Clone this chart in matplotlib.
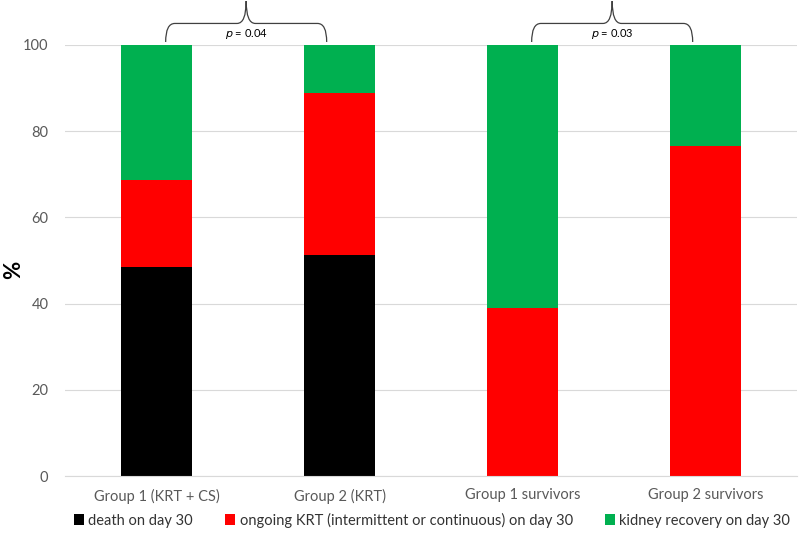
import matplotlib.pyplot as plt
from matplotlib.path import Path
from matplotlib.patches import PathPatch

plt.rcParams['font.family'] = ['Lato', 'DejaVu Sans']

groups = ['Group 1 (KRT + CS)', 'Group 2 (KRT)', 'Group 1 survivors', 'Group 2 survivors']
death = [48.6, 51.3, 0, 0]
ongoing = [20.0, 37.6, 38.9, 76.5]
recovery = [31.4, 11.1, 61.1, 23.5]
labels = ['death on day 30', 'ongoing KRT (intermittent or continuous) on day 30',
          'kidney recovery on day 30']
colors = ['#000000', '#ff0000', '#00b050']
brackets = [(0, 1, 'p = 0.04'), (2, 3, 'p = 0.03')]

fig = plt.figure(figsize=(8, 5.37), dpi=100)
ax = fig.add_axes([65 / 800, 1 - 476 / 537, 732 / 800, 431 / 537])

x = range(len(groups))
w = 0.39
b1 = ax.bar(x, death, w, color=colors[0], label=labels[0], zorder=2)
b2 = ax.bar(x, ongoing, w, bottom=death, color=colors[1], label=labels[1], zorder=2)
bottom2 = [d + o for d, o in zip(death, ongoing)]
b3 = ax.bar(x, recovery, w, bottom=bottom2, color=colors[2], label=labels[2], zorder=2)

ax.set_xlim(-0.5, 3.5)
ax.set_ylim(0, 100)
ax.set_yticks(range(0, 101, 20))
ax.yaxis.grid(True, color='#d9d9d9', linewidth=0.8, zorder=0)
ax.set_axisbelow(True)
for s in ['top', 'right', 'left']:
    ax.spines[s].set_visible(False)
ax.spines['bottom'].set_color('#d9d9d9')
ax.tick_params(axis='both', length=0, colors='#595959', labelsize=10.5)
ax.tick_params(axis='y', pad=12)
ax.tick_params(axis='x', pad=9)
ax.set_xticks(list(x))
ax.set_xticklabels(groups)
fig.text(14 / 800, 1 - 270 / 537, '%', rotation=90, fontsize=16, fontweight='bold',
         ha='center', va='center')


# curly brackets above the pairs of bars
def draw_bracket(x1, x2, txt):
    xm = (x1 + x2) / 2
    ylo, yhi, ytip = 100.7, 105.0, 110.2
    r = 0.05
    verts = [(x1, ylo), (x1, yhi), (x1 + r, yhi),
             (xm - r, yhi), (xm, yhi), (xm, ytip),
             (xm, ytip), (xm, yhi), (xm + r, yhi),
             (x2 - r, yhi), (x2, yhi), (x2, ylo)]
    codes = [Path.MOVETO, Path.CURVE3, Path.CURVE3,
             Path.LINETO, Path.CURVE3, Path.CURVE3,
             Path.MOVETO, Path.CURVE3, Path.CURVE3,
             Path.LINETO, Path.CURVE3, Path.CURVE3]
    patch = PathPatch(Path(verts, codes), fill=False, edgecolor='#404040',
                      linewidth=0.9, clip_on=False)
    ax.add_patch(patch)
    ax.text(xm, 102.6, r'$p$' + txt[1:], ha='center', va='center', fontsize=8,
            color='black', clip_on=False)


for i, j, t in brackets:
    draw_bracket(i + 0.05, j - 0.07, t)

fig.legend(handles=[b1, b2, b3], loc='center', bbox_to_anchor=(0.54, 1 - 520 / 537),
           ncol=3, frameon=False, fontsize=10.5, handlelength=0.7, handleheight=0.7,
           handletextpad=0.3, columnspacing=2.2, labelcolor='#333333')

fig.savefig('out.png', dpi=100)
